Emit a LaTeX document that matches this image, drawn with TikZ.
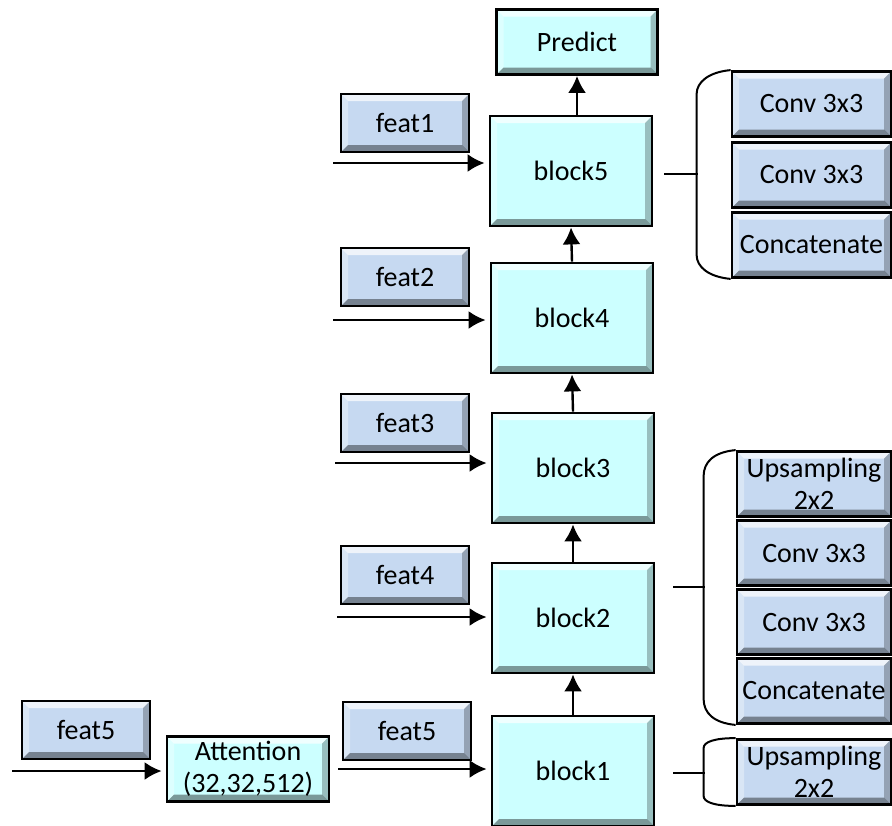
\documentclass[tikz,border=0pt]{standalone}
\usepackage{fontspec}
\setmainfont{Carlito}
\usetikzlibrary{arrows.meta,calc}

\definecolor{blockfill}{HTML}{CCFFFF}
\definecolor{featfill}{HTML}{C6D9F1}

\def\bw{3.5pt}
\tikzset{
  bevel/.style={path picture={
    \path (path picture bounding box.north west) coordinate (pa)
          (path picture bounding box.north east) coordinate (pb)
          (path picture bounding box.south east) coordinate (pc)
          (path picture bounding box.south west) coordinate (pd);
    \fill[white,opacity=.7] (pa) -- (pb) -- ([shift={(-\bw,-\bw)}]pb) -- ([shift={(\bw,-\bw)}]pa) -- cycle;
    \fill[white,opacity=.35] (pa) -- ([shift={(\bw,-\bw)}]pa) -- ([shift={(\bw,\bw)}]pd) -- (pd) -- cycle;
    \fill[black,opacity=.4] (pd) -- (pc) -- ([shift={(-\bw,\bw)}]pc) -- ([shift={(\bw,\bw)}]pd) -- cycle;
    \fill[black,opacity=.25] (pb) -- ([shift={(-\bw,-\bw)}]pb) -- ([shift={(-\bw,\bw)}]pc) -- (pc) -- cycle;
  }}
}

\begin{document}
\begin{tikzpicture}[x=0.5pt,y=-0.5pt,>={Latex[length=8.5pt,width=9pt]},
  box/.style={draw=black,line width=1.4pt,bevel,align=center,inner sep=0pt,
    font=\fontsize{14}{16}\selectfont},
  blk/.style={box,fill=blockfill,minimum width=81pt,minimum height=55pt},
  feat/.style={box,fill=featfill,minimum width=64pt,minimum height=29pt},
  op/.style={box,fill=featfill,minimum height=32.5pt},
  flow/.style={->,line width=1.2pt,shorten >=2pt},
  brc/.style={line width=1pt}]
\useasboundingbox (0,0) rectangle (892,825);

% main column
\node[box,fill=blockfill,minimum width=80.5pt,minimum height=32.5pt] (pred) at (577,42) {Predict};
\node[blk] (blk5) at (571,171) {block5};
\node[blk] (blk4) at (572,318) {block4};
\node[blk] (blk3) at (573,468) {block3};
\node[blk] (blk2) at (573,618) {block2};
\node[blk] (blk1) at (573,771) {block1};

% skip features
\node[feat] (ft1) at (405,123) {feat1};
\node[feat] (ft2) at (405,277) {feat2};
\node[feat] (ft3) at (405,423) {feat3};
\node[feat] (ft4) at (405,575) {feat4};
\node[feat] (ft5) at (407,731) {feat5};
\node[feat] (ft5a) at (86,730) {feat5};
\node[box,fill=blockfill,minimum width=81pt,minimum height=32.5pt] (att) at (248,769) {Attention\\(32,32,512)};

% block contents
\node[op,minimum width=79.5pt] (ca1) at (811.5,104) {Conv 3x3};
\node[op,minimum width=79.5pt] (ca2) at (811.5,175) {Conv 3x3};
\node[op,minimum width=79.5pt] (cat1) at (811.5,245) {Concatenate};
\node[op,minimum width=77pt] (up1) at (814,484) {Upsampling\\2x2};
\node[op,minimum width=77pt] (cb1) at (814,553) {Conv 3x3};
\node[op,minimum width=77pt] (cb2) at (814,622) {Conv 3x3};
\node[op,minimum width=77pt] (cat2) at (814,691) {Concatenate};
\node[op,minimum width=77pt] (up2) at (814,772) {Upsampling\\2x2};

% inputs
\coordinate (in1) at (333,163);
\coordinate (in2) at (333,320);
\coordinate (in3) at (335,463);
\coordinate (in4) at (337,617);
\coordinate (in5) at (12,771);
\draw[flow] (in1) -- (in1 -| blk5.west);
\draw[flow] (in2) -- (in2 -| blk4.west);
\draw[flow] (in3) -- (in3 -| blk3.west);
\draw[flow] (in4) -- (in4 -| blk2.west);
\draw[flow] (in5) -- (in5 -| att.west);
\draw[flow,shorten <=4pt] (att.east) -- (att.east -| blk1.west);

\draw[flow,shorten >=0pt] (blk1.north) -- (blk2.south);
\draw[flow,shorten >=0pt] (blk2.north) -- (blk3.south);
\draw[flow,shorten >=0pt] (blk3.north) -- (blk4.south);
\draw[flow,shorten >=0pt] (blk4.north) -- (blk5.south);
\draw[flow,shorten >=0pt] (blk5.north -| pred.south) -- (pred.south);

% braces
\draw[brc] (ca1.north west) .. controls ($(ca1.north west)+(-22,2)$) and ($(ca1.north west)+(-34,12)$) .. ($(ca1.north west)+(-34,24)$)
  -- ($(cat1.south west)+(-34,-24)$) .. controls ($(cat1.south west)+(-34,-12)$) and ($(cat1.south west)+(-22,-2)$) .. (cat1.south west);
\coordinate (tb) at (664,174);
\draw[brc] (tb) -- ++(34,0);

\draw[brc] (up1.north west) .. controls ($(up1.north west)+(-22,2)$) and ($(up1.north west)+(-32,12)$) .. ($(up1.north west)+(-32,26)$)
  -- ($(cat2.south west)+(-32,-26)$) .. controls ($(cat2.south west)+(-32,-12)$) and ($(cat2.south west)+(-22,-2)$) .. (cat2.south west);
\coordinate (bb) at (673,587);
\draw[brc] (bb) -- ++(32,0);

\draw[brc] (up2.north west) .. controls ($(up2.north west)+(-22,0)$) and ($(up2.north west)+(-32,4)$) .. ($(up2.north west)+(-32,10)$)
  -- ($(up2.south west)+(-32,-10)$) .. controls ($(up2.south west)+(-32,-4)$) and ($(up2.south west)+(-22,0)$) .. (up2.south west);
\coordinate (sb) at (673,773);
\draw[brc] (sb) -- ++(32,0);
\end{tikzpicture}
\end{document}
